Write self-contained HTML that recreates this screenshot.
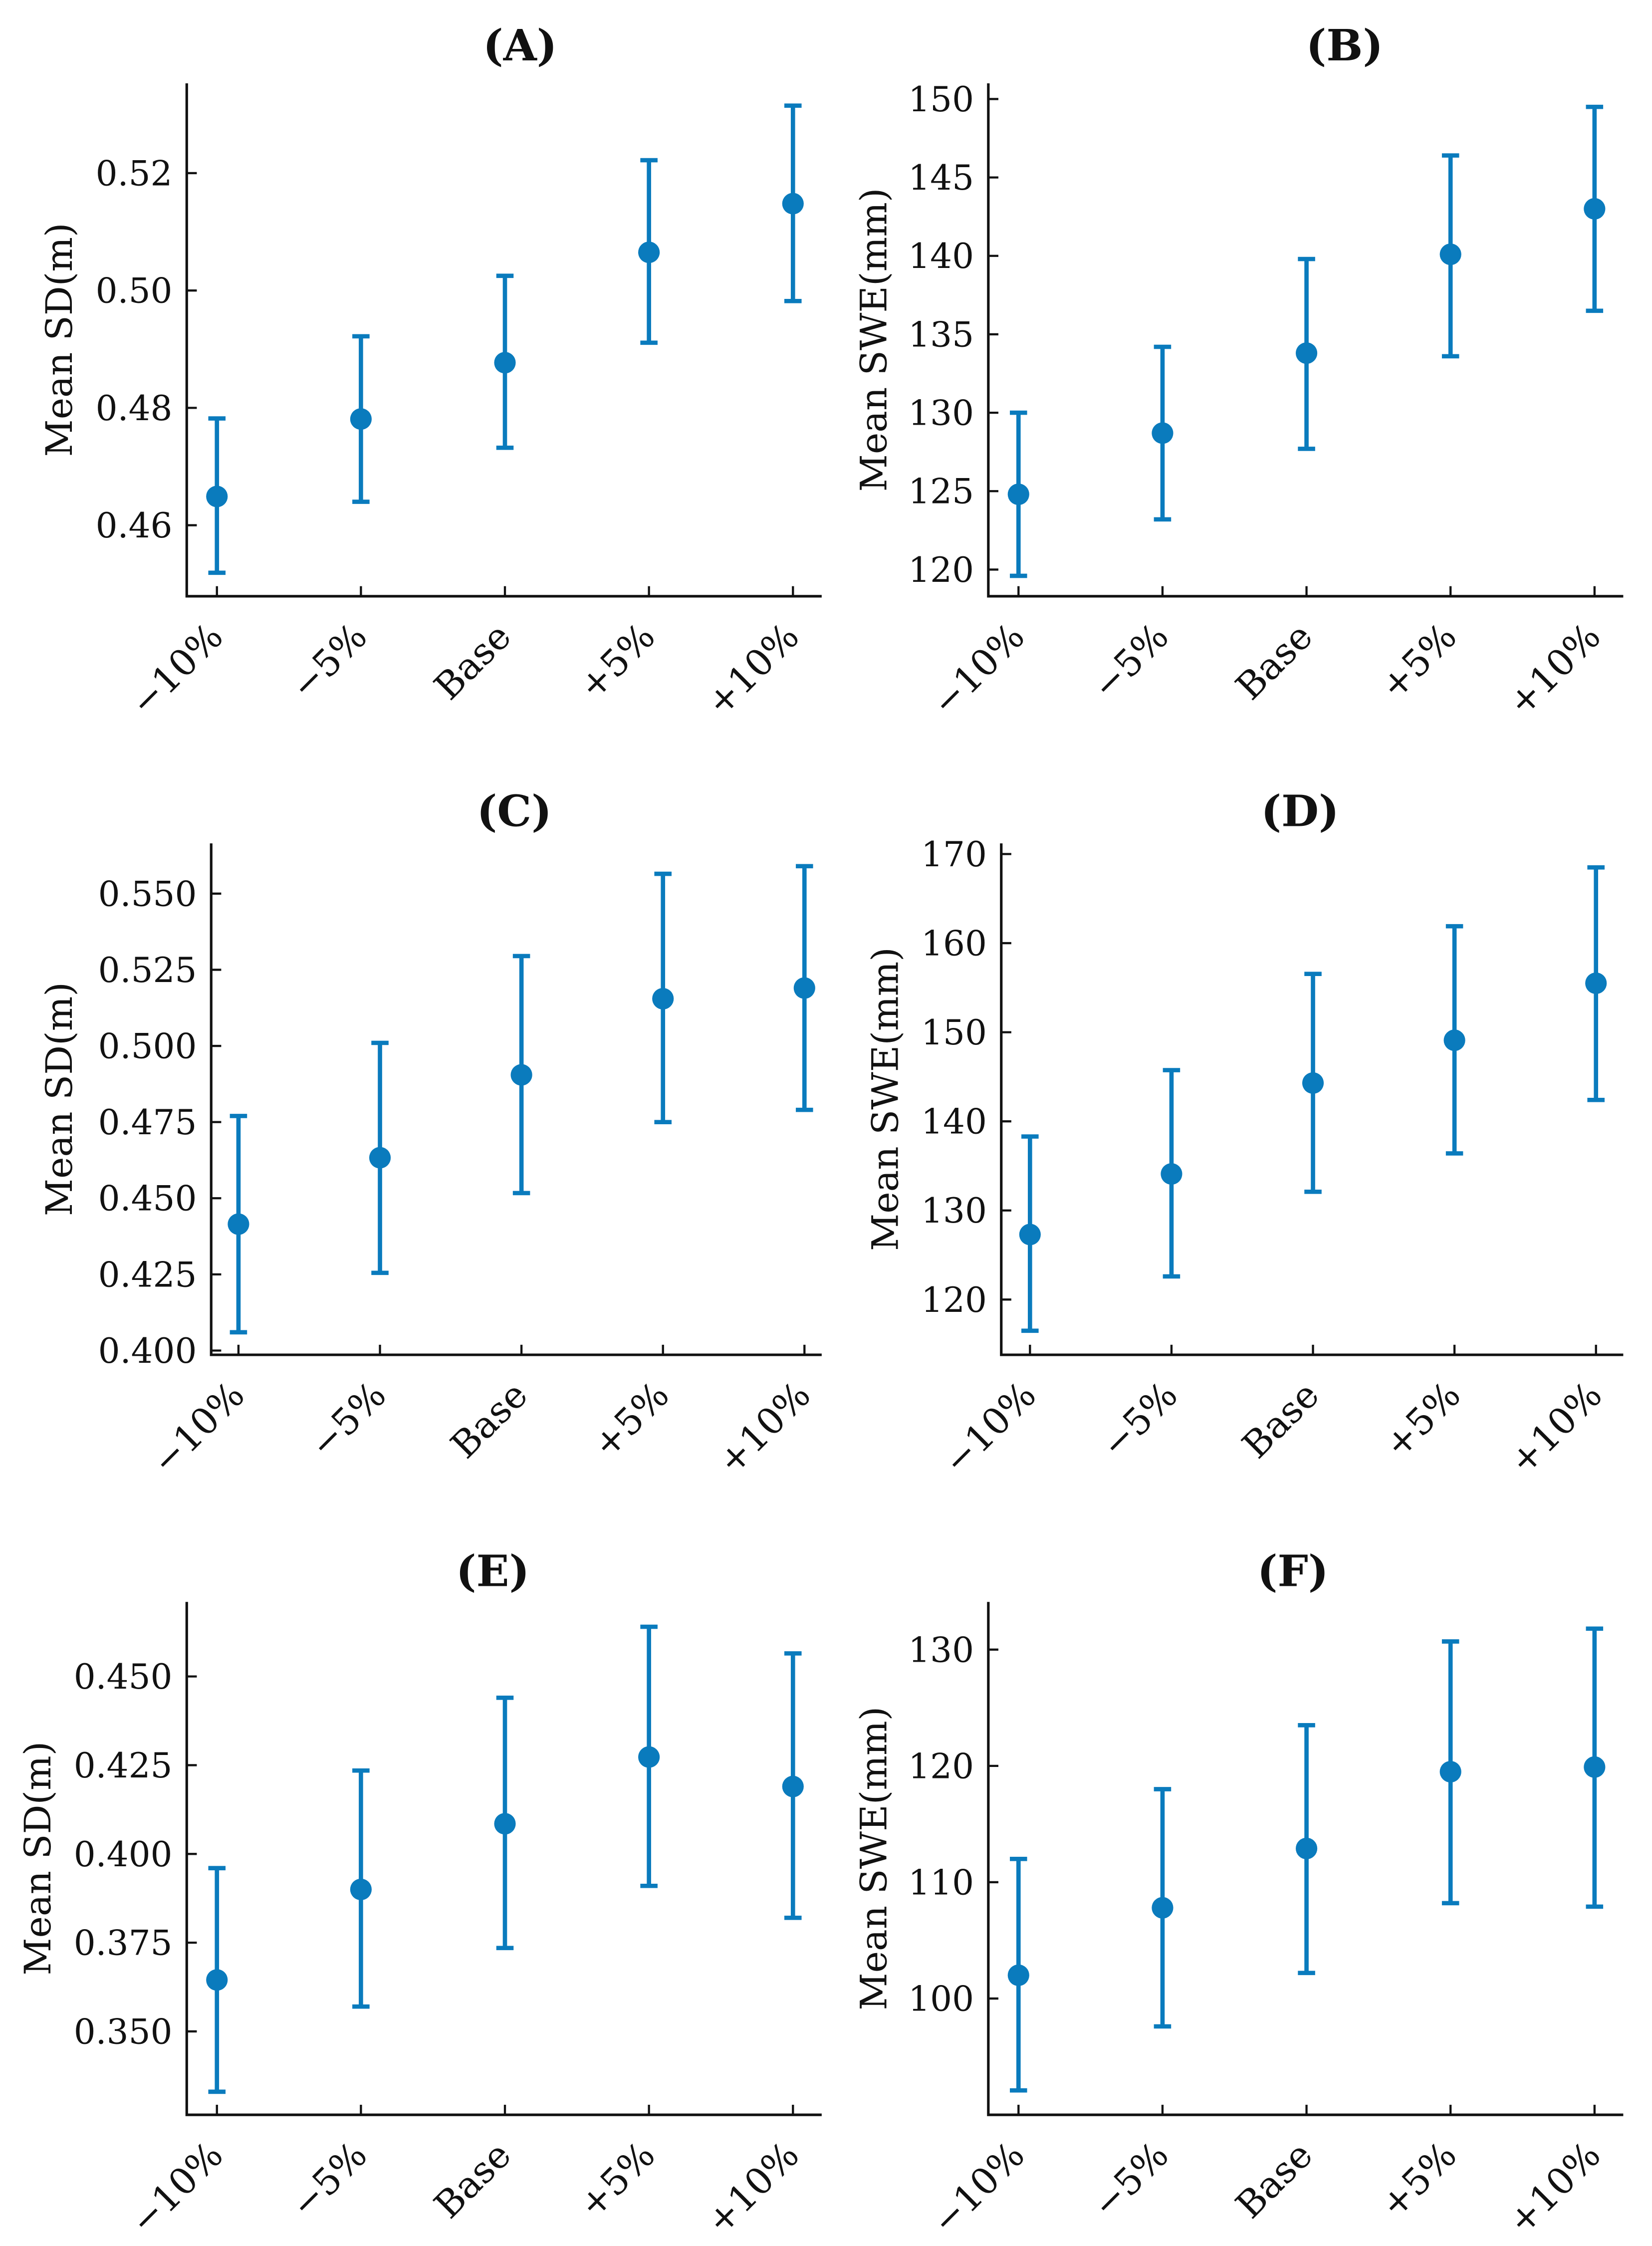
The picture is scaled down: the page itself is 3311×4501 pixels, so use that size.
<!DOCTYPE html>
<html><head><meta charset="utf-8"><style>
html,body{margin:0;padding:0;background:#fff}
svg{display:block}
text{font-family:"DejaVu Serif","Liberation Serif",serif;fill:#111}
</style></head><body>
<svg id="fig" width="3311" height="4501" viewBox="0 0 1150 1563.3" xmlns="http://www.w3.org/2000/svg"></svg>
<script>
const categories = ["\u221210%","\u22125%","Base","+5%","+10%"];
const meanA = [0.4649,0.4781,0.4877,0.5065,0.5148];
const lowA  = [0.4519,0.4640,0.4732,0.4911,0.4982];
const highA = [0.4782,0.4922,0.5025,0.5222,0.5315];
const meanB = [124.8,128.7,133.8,140.1,143.0];
const lowB  = [119.6,123.2,127.7,133.6,136.5];
const highB = [130.0,134.2,139.8,146.4,149.5];
const meanC = [0.4415,0.4633,0.4905,0.5155,0.5190];
const lowC  = [0.4060,0.4255,0.4517,0.4750,0.4790];
const highC = [0.4770,0.5010,0.5295,0.5565,0.5590];
const meanD = [127.3,134.1,144.3,149.1,155.5];
const lowD  = [116.5,122.6,132.1,136.4,142.4];
const highD = [138.3,145.75,156.55,161.9,168.5];
const meanE = [0.3645,0.3900,0.4085,0.4273,0.4190];
const lowE  = [0.3330,0.3570,0.3735,0.3910,0.3820];
const highE = [0.3960,0.4235,0.4440,0.4640,0.4565];
const meanF = [102.0,107.8,112.9,119.5,119.9];
const lowF  = [92.1,97.6,102.2,108.2,107.9];
const highF = [112.0,118.0,123.5,130.7,131.8];
const ticksA = [0.46,0.48,0.50,0.52];
const ticksB = [120,125,130,135,140,145,150];
const ticksC = [0.400,0.425,0.450,0.475,0.500,0.525,0.550];
const ticksD = [120,130,140,150,160,170];
const ticksE = [0.350,0.375,0.400,0.425,0.450];
const ticksF = [100,110,120,130];

const panels = [
 {id:"a",title:"(A)",tx:362,ty:42,L:130,R:572,T:58,B:415,x0:151,x1:552,ymin:0.4479,ymax:0.5353,ticks:ticksA,dec:2,yl:"Mean SD(m)",ylx:50,mean:meanA,low:lowA,high:highA},
 {id:"b",title:"(B)",tx:936,ty:42,L:688,R:1130,T:58,B:415,x0:709,x1:1110,ymin:118.3,ymax:151,ticks:ticksB,dec:0,yl:"Mean SWE(mm)",ylx:617,mean:meanB,low:lowB,high:highB},
 {id:"c",title:"(C)",tx:358,ty:575,L:147,R:572,T:587,B:943,x0:166,x1:560,ymin:0.3986,ymax:0.5665,ticks:ticksC,dec:3,yl:"Mean SD(m)",ylx:50,mean:meanC,low:lowC,high:highC},
 {id:"d",title:"(D)",tx:905,ty:575,L:697,R:1130,T:587,B:943,x0:717,x1:1111,ymin:113.8,ymax:171.2,ticks:ticksD,dec:0,yl:"Mean SWE(mm)",ylx:625,mean:meanD,low:lowD,high:highD},
 {id:"e",title:"(E)",tx:343,ty:1104,L:130,R:572,T:1115,B:1472,x0:151,x1:552,ymin:0.3265,ymax:0.471,ticks:ticksE,dec:3,yl:"Mean SD(m)",ylx:35,mean:meanE,low:lowE,high:highE},
 {id:"f",title:"(F)",tx:900,ty:1104,L:688,R:1130,T:1115,B:1472,x0:709,x1:1110,ymin:90,ymax:134.1,ticks:ticksF,dec:0,yl:"Mean SWE(mm)",ylx:617,mean:meanF,low:lowF,high:highF}
];
const NS="http://www.w3.org/2000/svg";
const svg=document.getElementById("fig");
const C="#0a7bbd";
function mk(tag,attrs,parent){const e=document.createElementNS(NS,tag);for(const k in attrs)e.setAttribute(k,attrs[k]);parent.appendChild(e);return e;}
panels.forEach(p=>{
 const g=mk("g",{},svg);
 
 
 const xs=i=>p.x0+(p.x1-p.x0)*i/(categories.length-1);
 const ys=v=>p.B-(v-p.ymin)/(p.ymax-p.ymin)*(p.B-p.T);
 const t=mk("text",{x:p.tx,y:p.ty,"text-anchor":"middle","font-size":30,"font-weight":"bold"},g);
 t.textContent=p.title;
 
 
 const ax=mk("path",{d:`M${p.L},${p.T}V${p.B}H${p.R}`,stroke:"#111","stroke-width":1.8,fill:"none"},g);
 
 
 p.ticks.forEach(v=>{
  const y=ys(v);
  mk("line",{x1:p.L,x2:p.L+7,y1:y,y2:y,stroke:"#111","stroke-width":1.5},g);
  const tl=mk("text",{x:p.L-10,y:y+8.5,"text-anchor":"end","font-size":24},g);
  tl.textContent=v.toFixed(p.dec);
  
  
 });
 const yl=mk("text",{x:p.ylx,y:(p.T+p.B)/2,"text-anchor":"middle","font-size":25.5,transform:`rotate(-90 ${p.ylx} ${(p.T+p.B)/2})`},g);
 yl.textContent=p.yl;
 
 
 categories.forEach((c,i)=>{
  const x=xs(i);
  mk("line",{x1:x,x2:x,y1:p.B,y2:p.B-7,stroke:"#111","stroke-width":1.5},g);
  const lx=x-7, ly=p.B+17;
  const xl=mk("text",{x:lx,y:ly,"text-anchor":"end","font-size":25.5,transform:`rotate(-45 ${lx} ${ly})`,dy:"0.7em"},g);
  xl.textContent=c;
  
  
  const yl0=ys(p.low[i]), yh=ys(p.high[i]), ym=ys(p.mean[i]);
  const eb=mk("path",{d:`M${x},${yl0}V${yh}M${x-6},${yl0}H${x+6}M${x-6},${yh}H${x+6}`,stroke:C,"stroke-width":3,fill:"none"},g);
  
  
  const pt=mk("circle",{cx:x,cy:ym,r:7.5,fill:C},g);
  
  
 });
});
</script>
</body></html>
